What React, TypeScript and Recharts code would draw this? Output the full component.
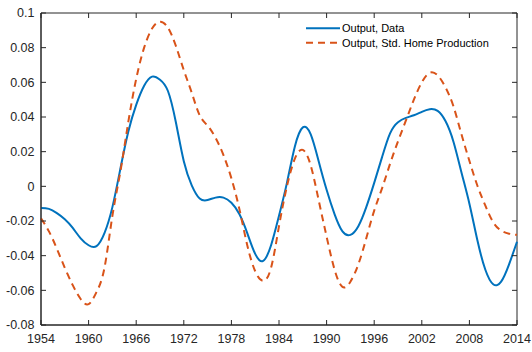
import React from 'react';
import { LineChart, Line, XAxis, YAxis, ReferenceArea, Customized } from 'recharts';

const years = [
  1954, 1955, 1956, 1957, 1958, 1959, 1960, 1961, 1962, 1963, 1964, 1965, 1966, 1967, 1968, 1969,
  1970, 1971, 1972, 1973, 1974, 1975, 1976, 1977, 1978, 1979, 1980, 1981, 1982, 1983, 1984, 1985,
  1986, 1987, 1988, 1989, 1990, 1991, 1992, 1993, 1994, 1995, 1996, 1997, 1998, 1999, 2000, 2001,
  2002, 2003, 2004, 2005, 2006, 2007, 2008, 2009, 2010, 2011, 2012, 2013, 2014,
];

// Output, Data
const outputData = [
  -0.0125, -0.013, -0.0155, -0.019, -0.024, -0.03, -0.034, -0.0345, -0.027, -0.012, 0.01, 0.0315,
  0.047, 0.058, 0.0633, 0.0615, 0.055, 0.037, 0.0145, 0.0006, -0.007, -0.0079, -0.0065, -0.0065,
  -0.0095, -0.016, -0.027, -0.039, -0.043, -0.034, -0.017, 0.002, 0.023, 0.034, 0.03, 0.0145,
  -0.002, -0.016, -0.026, -0.028, -0.023, -0.012, 0.002, 0.017, 0.0306, 0.037, 0.0395, 0.041,
  0.043, 0.0445, 0.0435, 0.0375, 0.0256, 0.008, -0.01, -0.031, -0.048, -0.0565, -0.055, -0.045, -0.032,
];

// Output, Std. Home Production
const outputHome = [
  -0.0185, -0.026, -0.036, -0.047, -0.057, -0.065, -0.068, -0.061, -0.047, -0.017, 0.0084, 0.037,
  0.062, 0.08, 0.091, 0.095, 0.0915, 0.081, 0.067, 0.054, 0.041, 0.035, 0.028, 0.018, 0.0046,
  -0.013, -0.034, -0.049, -0.0545, -0.047, -0.023, 0.0, 0.016, 0.021, 0.012, -0.008, -0.029,
  -0.048, -0.058, -0.055, -0.045, -0.03, -0.014, -0.001, 0.013, 0.026, 0.038, 0.05, 0.06,
  0.0655, 0.064, 0.057, 0.046, 0.03, 0.0147, 0.0005, -0.011, -0.0207, -0.0255, -0.0273, -0.028,
];

const seriesNames = ['Output, Data', 'Output, Std. Home Production'];

const xTicks = [1954, 1960, 1966, 1972, 1978, 1984, 1990, 1996, 2002, 2008, 2014];
const yTicks = [-0.08, -0.06, -0.04, -0.02, 0, 0.02, 0.04, 0.06, 0.08, 0.1];

const BLUE = '#0072BD';
const RED = '#D95319';
const AXIS = '#262626';
const FONT = '"Liberation Sans", Arial, sans-serif';

// plot box (from the chart margins / axis sizes below)
const PLOT_LEFT = 41;
const PLOT_RIGHT = 517;
const PLOT_TOP = 13;
const PLOT_BOTTOM = 325;
const TICK_LEN = 5;
const X_GAP = 9;
const Y_GAP = 6.5;

const data = years.map((year, i) => ({ year, data: outputData[i], home: outputHome[i] }));

const fmtY = (v: number) => String(Number(v.toFixed(2)));

// MATLAB style: ticks point inward, on both opposite sides of the box
const XTick = (props: any) => {
  const { x, y, payload } = props;
  return (
    <g>
      <line x1={x} x2={x} y1={PLOT_BOTTOM} y2={PLOT_BOTTOM - TICK_LEN} stroke={AXIS} strokeWidth={1} />
      <line x1={x} x2={x} y1={PLOT_TOP} y2={PLOT_TOP + TICK_LEN} stroke={AXIS} strokeWidth={1} />
      <text x={x} y={y} dy="0.71em" textAnchor="middle" fontSize={12.5} fill="#262626" fontFamily={FONT}>
        {payload.value}
      </text>
    </g>
  );
};

const YTick = (props: any) => {
  const { x, y, payload } = props;
  return (
    <g>
      <line x1={PLOT_LEFT} x2={PLOT_LEFT + TICK_LEN} y1={y} y2={y} stroke={AXIS} strokeWidth={1} />
      <line x1={PLOT_RIGHT} x2={PLOT_RIGHT - TICK_LEN} y1={y} y2={y} stroke={AXIS} strokeWidth={1} />
      <text x={x} y={y} dy="0.355em" textAnchor="end" fontSize={12.5} fill="#262626" fontFamily={FONT}>
        {fmtY(payload.value)}
      </text>
    </g>
  );
};

// legend drawn inside the svg, top right of the plot
const LegendSvg = () => {
  const items = [
    { label: seriesNames[0], color: BLUE, dash: undefined },
    { label: seriesNames[1], color: RED, dash: '7 5' },
  ];
  return (
    <g>
      {items.map((it, i) => {
        const cy = 28.3 + i * 14.4;
        return (
          <g key={it.label}>
            <line x1={306} x2={340} y1={cy} y2={cy} stroke={it.color} strokeWidth={2} strokeDasharray={it.dash} />
            <text x={342} y={cy} dy="0.355em" fontSize={11} fill="#000" fontFamily={FONT}>
              {it.label}
            </text>
          </g>
        );
      })}
    </g>
  );
};

export default function App() {
  return (
    <div style={{ position: 'absolute', left: 0, top: 0, width: 532, height: 352, background: '#fff' }}>
      <LineChart width={532} height={352} data={data} margin={{ top: PLOT_TOP, right: 532 - PLOT_RIGHT, bottom: 0, left: 0 }}>
        <XAxis
          dataKey="year"
          type="number"
          domain={[1954, 2014]}
          ticks={xTicks}
          height={352 - PLOT_BOTTOM}
          stroke={AXIS}
          tickLine={false}
          tickSize={0}
          tickMargin={X_GAP}
          tick={<XTick />}
          interval={0}
        />
        <YAxis
          domain={[-0.08, 0.1]}
          ticks={yTicks}
          width={PLOT_LEFT}
          stroke={AXIS}
          tickLine={false}
          tickSize={0}
          tickMargin={Y_GAP}
          tick={<YTick />}
          interval={0}
        />
        <ReferenceArea
          x1={1954}
          x2={2014}
          y1={-0.08}
          y2={0.1}
          ifOverflow="visible"
          fill="#ffffff"
          fillOpacity={0}
          stroke={AXIS}
          strokeWidth={1}
        />
        <Line
          type="natural"
          dataKey="data"
          name={seriesNames[0]}
          stroke={BLUE}
          strokeWidth={2}
          dot={false}
          isAnimationActive={false}
        />
        <Line
          type="natural"
          dataKey="home"
          name={seriesNames[1]}
          stroke={RED}
          strokeWidth={2}
          strokeDasharray="7 5"
          dot={false}
          isAnimationActive={false}
        />
        <Customized component={LegendSvg} />
      </LineChart>
    </div>
  );
}
